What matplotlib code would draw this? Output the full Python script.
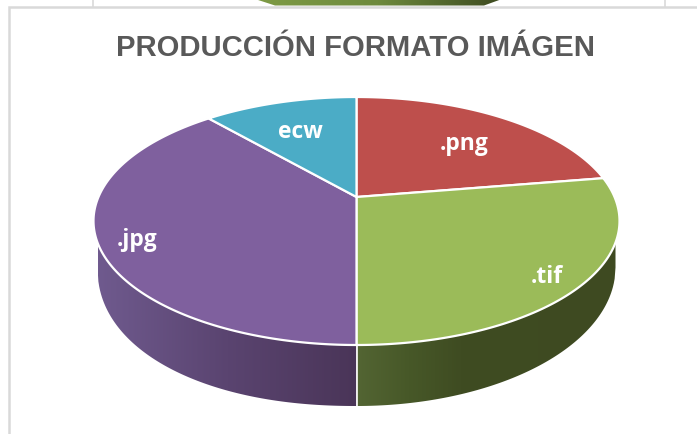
import numpy as np
import matplotlib
matplotlib.use("Agg")
import matplotlib.pyplot as plt
from matplotlib.patches import Polygon
from matplotlib.colors import LinearSegmentedColormap

categories = ['.png', '.tif', '.jpg', 'ecw']
values = [22.4, 27.6, 38.6, 11.4]
top_colors = ['#BE4F4C', '#9BBB59', '#7F609E', '#4BACC6']
title = 'PRODUCCIÓN FORMATO IMÁGEN'

W, H = 697, 435
fig = plt.figure(figsize=(W/100, H/100), dpi=100)
ax = fig.add_axes([0, 0, 1, 1])
ax.set_xlim(0, W); ax.set_ylim(H, 0); ax.axis('off')

# perspective disc
CX, CY, TOP, BOT, HALF = 356.5, 198.0, 98.0, 346.0, 263.0
k = ((BOT + TOP) - 2*CY) / (BOT - TOP)
c = TOP*(1 + k) - CY
A = HALF*np.sqrt(1 - k*k)

def project(theta):
    """theta: clockwise from the far side of the disc."""
    u, v = np.sin(theta), np.cos(theta)
    w = 1 + k*v
    return CX + A*u/w, (CY + c*v)/w

EY = (TOP + BOT)/2
EB = (BOT - TOP)/2
BOTTOM_CY, BOTTOM_B, BOTTOM_HALF = 268.5, 138.5, 259.0

def wall_bottom(x, p):
    t = np.clip(np.abs(x - CX)/BOTTOM_HALF, 0, 1)
    return BOTTOM_CY + BOTTOM_B*(1 - t**p)**(1/p)

def wall_top(x):
    t = np.clip((x - CX)/HALF, -1, 1)
    return EY + EB*np.sqrt(1 - t*t)

# frame and neighbouring chart
line = '#D9D9D9'
for xx in (93, 665):
    ax.plot([xx, xx], [0, 8], color=line, lw=1.2)
ax.plot([8.5, 8.5, W], [H, 7.5, 7.5], color=line, lw=1.8, solid_joinstyle='miter')
prev = LinearSegmentedColormap.from_list('p', ['#7E9B45', '#6E8A3D', '#3D4A20'])
im0 = ax.imshow(np.linspace(0, 1, 256)[None, :], extent=(255, 502, 7, 0), cmap=prev, aspect='auto', zorder=1)
clip0 = Polygon([[255, 0], [502, 0], [484, 6.5], [275, 6.5]], transform=ax.transData, fc='none', ec='none')
ax.add_patch(clip0)
im0.set_clip_path(clip0)

# side walls
cum = np.cumsum([0] + values)/sum(values)
wall_maps = {
    '.tif': LinearSegmentedColormap.from_list('g', [(0, '#536533'), (0.2, '#475828'), (0.4, '#3F4C22'), (1, '#3E4A21')]),
    '.jpg': LinearSegmentedColormap.from_list('v', ['#4A3558', '#5A4470', '#6F5A8E'])}
for cat, x0, x1, p in [('.tif', CX, CX + BOTTOM_HALF, 2.0), ('.jpg', CX - BOTTOM_HALF, CX, 2.15)]:
    xs = np.linspace(x0, x1, 300)
    grad = np.linspace(0, 1, 256)[None, :]
    if cat == '.jpg':
        grad = grad[:, ::-1]
    im = ax.imshow(grad, extent=(x0, x1, 420, 200), cmap=wall_maps[cat], aspect='auto', zorder=2)
    poly = Polygon(np.r_[np.c_[xs, wall_top(xs)], np.c_[xs[::-1], wall_bottom(xs[::-1], p)]],
                   transform=ax.transData, fc='none', ec='none')
    ax.add_patch(poly)
    im.set_clip_path(poly)
ax.plot([CX, CX], [BOT, BOT + 61], color='white', lw=1.2, zorder=3)

# top of the pie
for i, cat in enumerate(categories):
    th = np.linspace(cum[i], cum[i+1], 200)*2*np.pi
    x, y = project(th)
    ax.add_patch(Polygon(np.r_[[[CX, CY]], np.c_[x, y]], closed=True, fc=top_colors[i],
                         ec='white', lw=1.6, zorder=4, joinstyle='round'))

ax.set_xlim(0, W); ax.set_ylim(H, 0)

ax.text(356, 56, title, ha='center', va='baseline', fontsize=21.1, fontweight='bold',
        family='Liberation Sans', color='#595959', zorder=5)
label_xy = {'.png': (464, 144), '.tif': (547, 277), '.jpg': (137, 240), 'ecw': (300, 132)}
for cat in categories:
    ax.text(*label_xy[cat], cat, ha='center', va='center', fontsize=16.5, fontweight='bold',
            family='Open Sans', color='white', zorder=6)

fig.savefig('out.png', dpi=100)
